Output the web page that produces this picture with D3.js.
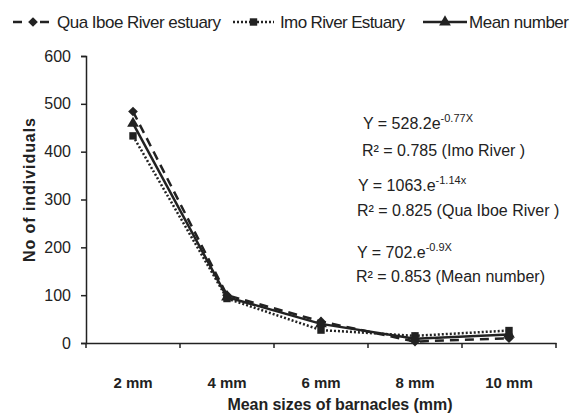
<!DOCTYPE html>
<html>
<head>
<meta charset="utf-8">
<script src="https://cdn.jsdelivr.net/npm/d3@7"></script>
<style>
  body { margin: 0; background: #fff; }
  text { font-family: "Liberation Sans", Arial, sans-serif; fill: #222; }
</style>
</head>
<body>
<div id="graph"></div>
<script>
const sizes = ["2 mm", "4 mm", "6 mm", "8 mm", "10 mm"];
const quaIboe = [484, 100, 45, 3, 10];
const imo = [433, 93, 27, 15, 26];
const meanNumber = [459, 96, 40, 9, 18];
const yTicks = [0, 100, 200, 300, 400, 500, 600];

const svg = d3.select("#graph").append("svg")
  .attr("width", 577)
  .attr("height", 415);

const x = d3.scaleBand().domain(sizes).range([86, 556]);
const y = d3.scaleLinear().domain([0, 600]).range([343, 56]);
const ink = "#222";

// axes
const yAxis = svg.append("g")
  .attr("transform", "translate(86,0)")
  .call(d3.axisLeft(y).tickValues(yTicks).tickSize(5).tickPadding(10));
yAxis.select(".domain").attr("stroke", ink).attr("stroke-width", 1.5);
yAxis.selectAll("line").attr("stroke", ink).attr("stroke-width", 1.5);
yAxis.selectAll("text").style("font-size", "16px").attr("fill", ink);

const xAxis = svg.append("g")
  .attr("transform", "translate(0,343)")
  .call(d3.axisBottom(x).tickSize(0).tickPadding(0));
xAxis.select(".domain").attr("stroke", ink).attr("stroke-width", 1.5);
xAxis.selectAll("text").remove();
// tick marks on band edges
svg.selectAll("line.xtick")
  .data(sizes.concat(["end"]))
  .enter().append("line")
  .attr("class", "xtick")
  .attr("x1", (d, i) => 86 + i * x.bandwidth())
  .attr("x2", (d, i) => 86 + i * x.bandwidth())
  .attr("y1", 343).attr("y2", 348)
  .attr("stroke", ink).attr("stroke-width", 1.5);
svg.selectAll("text.xlab")
  .data(sizes)
  .enter().append("text")
  .attr("class", "xlab")
  .attr("x", d => x(d) + x.bandwidth() / 2)
  .attr("y", 388)
  .attr("text-anchor", "middle")
  .style("font-size", "15px")
  .style("font-weight", "bold")
  .text(d => d);

svg.append("text")
  .attr("x", 340).attr("y", 410)
  .attr("text-anchor", "middle")
  .attr("textLength", 225)
  .style("font-size", "16px").style("font-weight", "bold")
  .text("Mean sizes of barnacles (mm)");

svg.append("text")
  .attr("transform", "translate(35,190) rotate(-90)")
  .attr("text-anchor", "middle")
  .attr("textLength", 144)
  .style("font-size", "16px").style("font-weight", "bold")
  .text("No of individuals");

// series
const cx = d => x(d) + x.bandwidth() / 2;
const series = [
  { name: "Qua Iboe River estuary", values: quaIboe, dash: "9,6", symbol: d3.symbolDiamond2, size: 60 },
  { name: "Imo River Estuary", values: imo, dash: "2,2", symbol: d3.symbolSquare, size: 55 },
  { name: "Mean number", values: meanNumber, dash: null, symbol: d3.symbolTriangle, size: 60 }
];

const line = d3.line().x((d, i) => cx(sizes[i])).y(d => y(d));

series.forEach(s => {
  svg.append("path")
    .datum(s.values)
    .attr("d", line)
    .attr("fill", "none")
    .attr("stroke", ink)
    .attr("stroke-width", 2.5)
    .attr("stroke-dasharray", s.dash);
  svg.selectAll(null)
    .data(s.values)
    .enter().append("path")
    .attr("d", d3.symbol().type(s.symbol).size(s.size))
    .attr("transform", (d, i) => `translate(${cx(sizes[i])},${y(d)})`)
    .attr("fill", ink);
});

// legend
const legendPos = [
  { x0: 13, x1: 53, tx: 57, w: 164, dash: "9,18" },
  { x0: 233, x1: 274, tx: 280, w: 125, dash: "2,2" },
  { x0: 423, x1: 467, tx: 469, w: 100, dash: null }
];
series.forEach((s, i) => {
  const p = legendPos[i];
  svg.append("line")
    .attr("x1", p.x0).attr("x2", p.x1)
    .attr("y1", 22).attr("y2", 22)
    .attr("stroke", ink).attr("stroke-width", 2.5)
    .attr("stroke-dasharray", p.dash);
  svg.append("path")
    .attr("d", d3.symbol().type(s.symbol).size(s.size))
    .attr("transform", `translate(${(p.x0 + p.x1) / 2},22)`)
    .attr("fill", ink);
  svg.append("text")
    .attr("x", p.tx).attr("y", 28)
    .attr("textLength", p.w)
    .style("font-size", "17px")
    .text(s.name);
});

// equations
const eqs = [
  { pre: "Y = 528.2e", sup: "-0.77X", x: 363, y: 129 },
  { pre: "R\u00b2 = 0.785  (Imo River )", sup: "", x: 362, y: 156 },
  { pre: "Y = 1063.e", sup: "-1.14x", x: 358, y: 191 },
  { pre: "R\u00b2 = 0.825 (Qua Iboe River )", sup: "", x: 357, y: 216 },
  { pre: "Y = 702.e", sup: "-0.9X", x: 357, y: 258 },
  { pre: "R\u00b2 = 0.853 (Mean number)", sup: "", x: 356, y: 282 }
];
eqs.forEach(e => {
  const t = svg.append("text")
    .attr("x", e.x).attr("y", e.y)
    .style("font-size", "16px");
  t.append("tspan").text(e.pre);
  if (e.sup) {
    t.append("tspan").attr("dy", -7).style("font-size", "11px").text(e.sup);
  }
});
</script>
</body>
</html>
